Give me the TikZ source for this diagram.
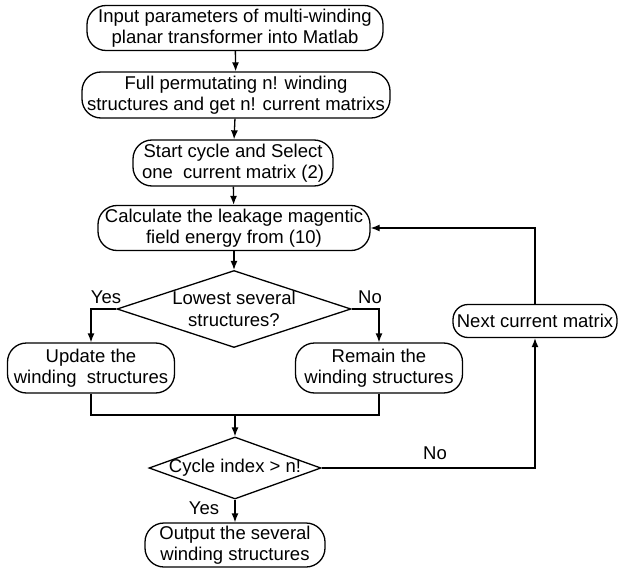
\documentclass[tikz,border=0pt]{standalone}
\usepackage{fontspec}
\setmainfont{Liberation Sans}
\usepackage{tikz}
\usetikzlibrary{shapes.geometric}
\usetikzlibrary{arrows.meta}

\begin{document}
\begin{tikzpicture}[x=1pt, y=-1pt,
    every node/.style={font=\fontsize{18.5}{21.5}\selectfont, align=center, inner sep=0pt},
    proc/.style={draw, rounded corners=19pt, line width=1.3pt},
    dec/.style={draw, diamond, aspect=3, inner sep=-25pt, line width=1.3pt},
    every path/.style={line width=1.3pt},
    >={Latex[length=9pt, width=7pt]}]
            \useasboundingbox (0,0) rectangle (618,572);
            % Nodes
            \node[proc, minimum width=296pt, minimum height=45pt] (input) at (235,28) {Input parameters of multi-winding\\planar transformer into Matlab};
            \node[proc, minimum width=308pt, minimum height=46pt] (perm) at (236,95) {Full permutating n! winding\\structures and get n! current matrixs};
            \node[proc, minimum width=200pt, minimum height=46pt] (start) at (233,163) {Start cycle and Select\\one\ \ current matrix (2)};
            \node[proc, minimum width=272pt, minimum height=45pt] (calc) at (234,228) {Calculate the leakage magentic\\field energy from (10)};
            \node[dec, minimum width=234pt, minimum height=77pt] (lowest) at (234,309) {Lowest several\\structures?};
            \node[proc, minimum width=167pt, minimum height=50pt] (update) at (91,368) {Update the\\winding\ \ structures};
            \node[proc, minimum width=167pt, minimum height=50pt] (remain) at (379,368) {Remain the\\winding structures};
            \node[proc, rounded corners=15pt, minimum width=164pt, minimum height=33pt] (next) at (535,321) {Next current matrix};
            \node[dec, minimum width=172pt, minimum height=62pt] (cycle) at (235,468) {Cycle index \textgreater{} n!};
            \node[proc, minimum width=180pt, minimum height=44pt] (output) at (235,545) {Output the several\\winding structures};
            \coordinate (join) at (235,415);

            % Labels
            \node (yes1) at (106,297) {Yes};
            \node (no1) at (370,297) {No};
            \node (no2) at (435,453) {No};
            \node (yes2) at (204,508) {Yes};

            % Edges
            \draw[->] (input) -- (perm);
            \draw[->] (perm) -- (start);
            \draw[->] (start) -- (calc);
            \draw[->] (calc) -- (lowest);
            \draw[->] (lowest.west) -| (update.north);
            \draw[->] (lowest.east) -| (remain.north);
            \draw (update.south) |- (join);
            \draw (remain.south) |- (join);
            \draw[->] (join) -- (cycle.north);
            \draw[->] (cycle.east) -| (next.south);
            \draw[->] (next.north) |- (calc.east);
            \draw[->] (cycle) -- (output);
\end{tikzpicture}
\end{document}
